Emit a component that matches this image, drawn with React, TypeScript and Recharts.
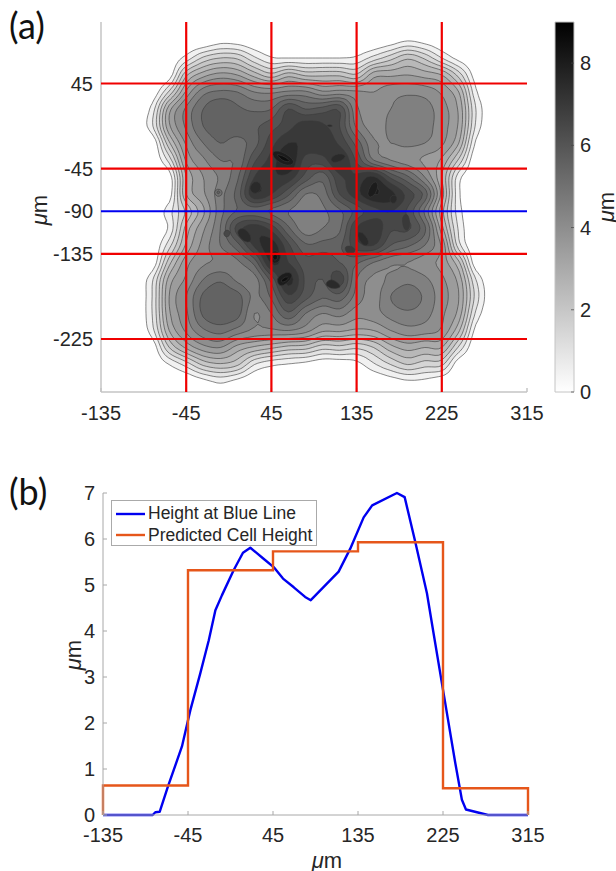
import React from 'react';
import { ScatterChart, Scatter, XAxis, YAxis, LineChart, Line, Legend, BarChart, Bar } from 'recharts';

const FONT = '"Liberation Sans", Arial, sans-serif';
const INK = '#262626';

// Height map: one row per y, one value per x (missing values on the right are 0)
const gridX = [-135,-117,-99,-81,-63,-45,-27,-9,9,27,45,63,81,99,117,135,153,171,189,207,225,243,261,279,297,315];
const gridY = [108,90,72,54,36,18,0,-18,-36,-54,-72,-90,-108,-126,-144,-162,-180,-198,-216,-234,-252,-270,-288];
const heights = [
  [],
  [0,0,0,0,0,0,0,.3,.25,.05,0,0,0,0,0,0,0,.2,.5,.3,.05],
  [0,0,0,0,.05,.7,1.6,2,1.9,1.1,.55,.5,.5,.5,.5,.6,1.2,1.8,2.4,1.9,1,.3],
  [0,0,0,0,.2,2.4,3.3,3.7,3.5,2.8,2.2,2.8,2.4,2.4,2.4,2.1,3.3,3.4,3.5,3.3,3,1.8,.2],
  [0,0,0,.05,1.6,3.6,4.8,5.1,5,4.5,4.4,4.6,4.6,4.1,4.2,4.1,4,4.3,4.4,4.3,3.9,3,.6],
  [0,0,0,.7,3.3,4.6,5.5,5.9,5.6,5.4,5.5,6.5,6,6.2,6.4,4.6,4.3,4.5,4.7,4.7,4.2,3.4,1],
  [0,0,0,.9,3.4,4.6,5.5,5.8,5.8,5.9,6.3,6.8,7.3,7.1,6.5,4.9,4.3,4.6,4.7,4.7,4.2,3.4,.9],
  [0,0,0,0,2.4,4.1,5,5.5,5.3,5.8,6.8,7.5,7.4,7.3,6.9,5.8,4.6,4.5,4.6,4.5,4.1,3,.4],
  [0,0,0,0,1.2,3.6,4.4,5,5.1,6.4,7.2,8,6.8,6.8,7.5,6.4,5,4.5,4.2,3.9,3.4,1.9],
  [0,0,0,0,.2,3,4,4.6,5.4,7,7.4,7.3,6.3,5.7,6.9,7.1,7.6,6.4,5.6,4.5,3,.7],
  [0,0,0,0,.2,3,3.9,4.8,5.7,7.4,7,6.1,5,5.2,6.5,7.3,8,7.7,6.8,5.8,3.3,.6],
  [0,0,0,0,.8,2.1,3.4,4.8,5.55,5.75,5.4,5,4.7,4.9,5.4,6.2,6.8,7,6.4,4.9,2.7,.7,.05],
  [0,0,0,0,.6,2.7,3.9,5,6.7,7.3,6.8,5.6,4.7,5,5.4,7,7.4,6.6,6.6,5.6,3.2,.9],
  [0,0,0,0,1.3,3.1,4.2,5,5.8,7.1,7.8,6.6,5.6,5.7,5.9,6.8,7,6,5.6,5,3.9,1.2],
  [0,0,0,.05,2.3,3.8,4.4,4.6,4.9,5.7,7.6,7,6.2,6.3,6,5.6,5,4.6,4.5,4.2,3.8,2.6,.1],
  [0,0,0,.9,3.2,4.1,5,5.4,4.9,4.8,6.2,7.7,6.4,6,6.8,5,4.4,4.6,4.85,4.6,4.1,3.3,1],
  [0,0,0,1,3.5,4.5,5.6,5.9,5.7,4.9,5.6,6.9,6.2,5.6,5.8,4.8,4.3,5,5.3,4.9,4.2,3.5,1.3],
  [0,0,0,1,3.4,4.4,5.6,5.9,5.7,4.5,5,5.9,5,4.5,4.7,4.2,4.3,4.7,4.9,4.7,4.1,3.3,.9],
  [0,0,0,.8,3,4.1,4.9,5.2,4.8,4.4,4.4,4.5,4.2,3.6,3.6,3.4,3.5,4,4.3,4.2,3.9,2.6,.3],
  [0,0,0,.1,2,3.1,3.8,4,3.3,2.9,2.6,2.3,2.2,1.7,1.8,1.6,2,2.8,3.2,3,3,1.4],
  [0,0,0,0,.5,1.2,2.1,2.4,2.1,1,.6,.45,.3,.1,.1,.3,.9,1.5,2,1.7,1.6,.1],
  [0,0,0,0,0,0,.3,.6,.3,0,0,0,0,0,0,0,0,.2,.4,.35,.1],
  [],
];
const contourLevels = [.5,1,1.5,2,2.5,3,3.5,4,4.5,5,5.5,6,6.5,7,7.5,8,8.5];

// Small closed contours around the sharpest peaks, as level and [x, y] pairs
const peak1 = { level: 8, pts: [[46,-27],[52,-26],[60,-29],[68,-35],[69,-40],[62,-42],[54,-39],[47,-33]] };
const peak1b = { level: 8.5, pts: [[50,-30],[54,-30.5],[60,-33],[65,-37],[62,-38],[56,-36]] };
const peak2 = { level: 7.5, pts: [[107,-35],[112,-30],[120,-29],[124,-32],[119,-37],[110,-39]] };
const peak3 = { level: 8, pts: [[146,-72],[150,-62],[155,-58],[158,-62],[155,-72],[149,-76]] };
const peak4 = { level: 7.5, pts: [[170,-77],[172,-73],[177,-73],[178,-78],[175,-82],[171,-81]] };
const peak5 = { level: 7, pts: [[183,-96],[188,-92],[191,-98],[191,-108],[187,-111],[184,-106]] };
const peak6 = { level: 7.5, pts: [[136,-112],[141,-112],[147,-119],[148,-125],[143,-127],[137,-120]] };
const peak7 = { level: 7, pts: [[122,-128],[128,-126],[134,-130],[132,-135],[125,-135]] };
const peak8 = { level: 8, pts: [[43,-134],[49,-131],[55,-135],[54,-143],[48,-146],[43,-141]] };
const peak8b = { level: 8.5, pts: [[46,-137],[50,-135],[52,-138],[50,-142],[47,-141]] };
const peak9 = { level: 8, pts: [[50,-162],[56,-156],[64,-154],[68,-158],[62,-166],[54,-170]] };
const peak9b = { level: 8.5, pts: [[55,-163],[60,-159],[64,-160],[60,-164],[56,-165]] };
const peak10 = { level: 7.5, pts: [[101,-167],[108,-161],[117,-167],[118,-171],[108,-172]] };
const peak11 = { level: 7.5, pts: [[9,-110],[16,-107],[24,-116],[23,-123],[16,-122],[10,-116]] };
const peak12 = { level: 6.5, pts: [[-6,-113],[-2,-109],[2,-112],[0,-117],[-4,-117]] };
const peak13 = { level: 7.5, pts: [[22,-64],[27,-58],[34,-60],[34,-68],[28,-72],[23,-69]] };
const peak14 = { level: 5, pts: [[-16,-70],[-12,-66],[-7,-68],[-7,-73],[-12,-75]] };
const peak14b = { level: 5.5, pts: [[-13,-70],[-11,-68],[-9,-70],[-11,-72]] };
const peak15 = { level: 7.5, pts: [[103,1],[108,1.5],[110,0],[106,-1]] };
const peakLoops = [peak14, peak14b, peak12, peak7, peak5, peak2, peak4, peak6, peak10, peak11, peak13, peak15, peak1, peak3, peak8, peak9, peak1b, peak8b, peak9b];

// Cell grid lines of panel (a)
const gridLinesX = [-45, 45, 135, 225];
const gridLinesY = [45, -45, -135, -225];
const blueLineY = -90;
const axisAXTicks = [-135, -45, 45, 135, 225, 315];
const axisAYTicks = [-225, -135, -90, -45, 45];
const colorbarTicks = [0, 2, 4, 6, 8];

// Panel (b)
const blueX = [-135,-82.4,-79.6,-75,-66.2,-51.4,-42.5,-32,-23,-16,-9,3.3,13.2,21,35,45.7,55.6,67,79,85,114.5,126.8,141,150,176.2,184.4,195.6,208,215,225.6,238,245,249.3,272.6,315];
const blueH = [0,0,.06,.07,.62,1.49,2.28,3.08,3.8,4.45,4.78,5.32,5.7,5.81,5.57,5.39,5.14,4.95,4.74,4.67,5.29,5.79,6.47,6.73,7,6.91,5.94,4.82,3.95,2.65,1.13,.33,.12,0,0];
const cellEdges = [-135,-45,45,135,225,315];
const cellHeights = [.64,5.32,5.73,5.93,.58];
const axisBYTicks = [0,1,2,3,4,5,6,7];

const blueData = blueX.map((x, i) => ({ x, h: blueH[i] }));
const orangeData: any[] = [{ x: cellEdges[0], h: 0 }];
cellHeights.forEach((h, i) => { orangeData.push({ x: cellEdges[i], h }, { x: cellEdges[i + 1], h }); });
orangeData.push({ x: cellEdges[cellEdges.length - 1], h: 0 });

// Contour tracing over a smoothed copy of the height map
const UP = 5;
function cr(a: number, b: number, c: number, d: number, t: number) {
  return 0.5 * (2 * b + (c - a) * t + (2 * a - 5 * b + 4 * c - d) * t * t + (3 * b - a - 3 * c + d) * t * t * t);
}
const nx = gridX.length, ny = gridY.length;
const at = (i: number, j: number) => {
  const r = heights[Math.max(0, Math.min(ny - 1, j))];
  return r[Math.max(0, Math.min(nx - 1, i))] ?? 0;
};
const W = (nx - 1) * UP + 1, H = (ny - 1) * UP + 1;
const fine: number[][] = [];
for (let v = 0; v < H; v++) {
  const j = Math.floor(v / UP), tv = v / UP - j;
  const row: number[] = [];
  for (let u = 0; u < W; u++) {
    const i = Math.floor(u / UP), tu = u / UP - i;
    const col = [-1, 0, 1, 2].map((dj) => cr(at(i - 1, j + dj), at(i, j + dj), at(i + 1, j + dj), at(i + 2, j + dj), tu));
    row.push(cr(col[0], col[1], col[2], col[3], tv));
  }
  fine.push(row);
}
const fx = (u: number) => gridX[0] + (u / UP) * (gridX[1] - gridX[0]);
const fy = (v: number) => gridY[0] + (v / UP) * (gridY[1] - gridY[0]);

function trace(level: number) {
  const adj = new Map<string, string[]>();
  const pos = new Map<string, [number, number]>();
  const edge = (kind: string, u: number, v: number) => {
    const key = kind + u + '_' + v;
    if (!pos.has(key)) {
      if (kind === 'h') {
        const a = fine[v][u], b = fine[v][u + 1];
        pos.set(key, [fx(u + (level - a) / (b - a)), fy(v)]);
      } else {
        const a = fine[v][u], b = fine[v + 1][u];
        pos.set(key, [fx(u), fy(v + (level - a) / (b - a))]);
      }
    }
    return key;
  };
  const link = (a: string, b: string) => {
    if (!adj.has(a)) adj.set(a, []);
    if (!adj.has(b)) adj.set(b, []);
    adj.get(a)!.push(b); adj.get(b)!.push(a);
  };
  for (let v = 0; v < H - 1; v++) for (let u = 0; u < W - 1; u++) {
    const a = fine[v][u] >= level, b = fine[v][u + 1] >= level, c = fine[v + 1][u + 1] >= level, d = fine[v + 1][u] >= level;
    const cross: string[] = [];
    if (a !== b) cross.push(edge('h', u, v));
    if (b !== c) cross.push(edge('v', u + 1, v));
    if (c !== d) cross.push(edge('h', u, v + 1));
    if (d !== a) cross.push(edge('v', u, v));
    if (cross.length === 2) link(cross[0], cross[1]);
    else if (cross.length === 4) {
      const centre = (fine[v][u] + fine[v][u + 1] + fine[v + 1][u + 1] + fine[v + 1][u]) / 4 >= level;
      if (centre === a) { link(cross[0], cross[1]); link(cross[2], cross[3]); }
      else { link(cross[3], cross[0]); link(cross[1], cross[2]); }
    }
  }
  const seen = new Set<string>();
  const pts: { x: number; y: number }[] = [];
  const starts: number[] = [];
  adj.forEach((_, k0) => {
    if (seen.has(k0)) return;
    const loop: [number, number][] = [];
    let cur: string | undefined = k0;
    while (cur && !seen.has(cur)) {
      seen.add(cur);
      loop.push(pos.get(cur)!);
      cur = adj.get(cur)!.find((n) => !seen.has(n));
    }
    if (loop.length < 3) return;
    starts.push(pts.length);
    let last: [number, number] | null = null;
    loop.forEach((p) => {
      if (!last || Math.hypot(p[0] - last[0], p[1] - last[1]) > 1.4) { pts.push({ x: p[0], y: p[1] }); last = p; }
    });
  });
  return { pts, starts };
}

const grey = (level: number) => {
  const g = Math.round(255 * (1 - level / 9));
  return `rgb(${g},${g},${g})`;
};

const contourSeries = contourLevels.map((level) => ({ level, ...trace(level), smooth: false }));
const peakSeries = peakLoops.map((p) => ({ level: p.level, pts: p.pts.map(([x, y]) => ({ x, y })), starts: [0], smooth: true }));

const filledLine = (level: number, starts: number[], smooth: boolean) => (props: any) => {
  const points: { x: number; y: number }[] = props.points;
  let d = '';
  if (smooth) {
    const n = points.length;
    const mid = (a: any, b: any) => `${((a.x + b.x) / 2).toFixed(1)} ${((a.y + b.y) / 2).toFixed(1)}`;
    d = 'M' + mid(points[n - 1], points[0]);
    points.forEach((p, i) => { d += `Q${p.x.toFixed(1)} ${p.y.toFixed(1)} ${mid(p, points[(i + 1) % n])}`; });
  } else {
    points.forEach((p, i) => {
      if (starts.includes(i)) d += (i ? 'Z' : '') + 'M';
      else d += 'L';
      d += p.x.toFixed(1) + ' ' + p.y.toFixed(1);
    });
  }
  return <path d={d + 'Z'} fill={grey(level)} fillRule="evenodd" stroke="#3a3a3a" strokeWidth={0.7} strokeOpacity={0.85} strokeLinejoin="round" />;
};
const noDot = () => <g />;

const MuText = ({ x, y, rotate = 0 }: any) => (
  <text x={x} y={y} textAnchor="middle" dominantBaseline="central" fontFamily={FONT} fontSize={22} fill={INK}
    transform={rotate ? `rotate(${rotate} ${x} ${y})` : undefined}>
    <tspan fontStyle="italic">μ</tspan>m
  </text>
);

const tickStyle = { fontFamily: FONT, fontSize: 20, fill: INK };
const LEGEND_NAMES = ['Height at Blue Line', 'Predicted Cell Height'];
const BLUE = '#0000f0';
const ORANGE = '#e6561a';

const LegendBox = () => (
  <div style={{ width: 206, height: 46, boxSizing: 'border-box', border: '1px solid #aaa', background: '#fff', fontFamily: FONT, fontSize: 17.5, color: INK, lineHeight: '21.6px', paddingTop: 2 }}>
    {LEGEND_NAMES.map((n, i) => (
      <div key={n} style={{ display: 'flex', alignItems: 'center', whiteSpace: 'nowrap' }}>
        <svg width={36} height={10} style={{ flex: 'none' }}><line x1={4} x2={33} y1={5} y2={5} stroke={i ? ORANGE : BLUE} strokeWidth={2.4} /></svg>
        <span>{n}</span>
      </div>
    ))}
  </div>
);

const panelLabel = (text: string, top: number) => (
  <div style={{ position: 'absolute', left: 9, top, fontFamily: 'Lato, sans-serif', fontSize: 36, color: '#111', lineHeight: '36px' }}>{text}</div>
);

export default function App() {
  const boxA = { stroke: '#c4c4c4', strokeWidth: 1.5 };
  const boxB = { stroke: '#a8a8a8', strokeWidth: 1 };
  return (
    <div style={{ position: 'absolute', left: 0, top: 0, width: 616, height: 871, overflow: 'hidden', background: '#fff' }}>
      {panelLabel('(a)', 7)}
      {panelLabel('(b)', 473)}
      <div style={{ position: 'absolute', left: 0, top: 0 }}>
        <ScatterChart width={616} height={440} margin={{ top: 22, right: 89, bottom: 18, left: 0 }}>
          <XAxis xAxisId="b" type="number" dataKey="x" domain={[-135, 315]} ticks={axisAXTicks} interval={0} height={30} allowDataOverflow axisLine={boxA} tickLine={boxA} tickSize={-4} tickMargin={18} tick={tickStyle} />
          <XAxis xAxisId="t" type="number" dataKey="x" orientation="top" domain={[-135, 315]} ticks={[]} height={0} axisLine={boxA} tick={false} tickLine={false} />
          <YAxis yAxisId="l" type="number" dataKey="y" domain={[-281, 110]} ticks={axisAYTicks} interval={0} width={101} allowDataOverflow axisLine={boxA} tickLine={false} tickMargin={8} tickSize={0} tick={tickStyle} />
          <YAxis yAxisId="r" type="number" dataKey="y" orientation="right" domain={[-281, 110]} ticks={[]} width={0} axisLine={boxA} tick={false} tickLine={false} />
          {[...contourSeries, ...peakSeries].map((s, i) => (
            <Scatter key={i} xAxisId="b" yAxisId="l" data={s.pts} isAnimationActive={false} shape={noDot} line={filledLine(s.level, s.starts, s.smooth)} />
          ))}
          {gridLinesX.map((x) => (
            <Scatter key={'vx' + x} xAxisId="b" yAxisId="l" data={[{ x, y: -281 }, { x, y: 110 }]} isAnimationActive={false} shape={noDot} line={{ stroke: '#f00000', strokeWidth: 2.2 }} />
          ))}
          {gridLinesY.map((y) => (
            <Scatter key={'hy' + y} xAxisId="b" yAxisId="l" data={[{ x: -135, y }, { x: 315, y }]} isAnimationActive={false} shape={noDot} line={{ stroke: '#f00000', strokeWidth: 2.2 }} />
          ))}
          <Scatter xAxisId="b" yAxisId="l" data={[{ x: -135, y: blueLineY }, { x: 315, y: blueLineY }]} isAnimationActive={false} shape={noDot} line={{ stroke: '#0000f0', strokeWidth: 2.2 }} />
          <MuText x={313} y={446} />
          <MuText x={39} y={210} rotate={-90} />
        </ScatterChart>
      </div>
      <div style={{ position: 'absolute', left: 0, top: 0 }}>
        <BarChart width={616} height={440} data={[{ c: 'bar', v: 9 }]} margin={{ top: 22, right: 0, bottom: 48, left: 555 }} barCategoryGap={0}>
          <defs>
            <linearGradient id="cbar" x1="0" y1="0" x2="0" y2="1">
              <stop offset="0%" stopColor="#000" />
              <stop offset="100%" stopColor="#fff" />
            </linearGradient>
          </defs>
          <XAxis dataKey="c" hide />
          <YAxis orientation="right" type="number" domain={[0, 9]} ticks={colorbarTicks} interval={0} width={42} axisLine={false} tickLine={{ stroke: '#444', strokeWidth: 0.7 }} tickSize={-3} tickMargin={9} tick={tickStyle} />
          <Bar dataKey="v" fill="url(#cbar)" stroke="#c4c4c4" strokeWidth={1} isAnimationActive={false} />
          <MuText x={606} y={207} rotate={-90} />
        </BarChart>
      </div>
      <div style={{ position: 'absolute', left: 0, top: 470 }}>
        <LineChart width={616} height={401} margin={{ top: 23, right: 88, bottom: 26, left: 0 }}>
          <XAxis xAxisId="b" type="number" dataKey="x" domain={[-135, 315]} ticks={axisAXTicks} interval={0} height={30} axisLine={boxB} tickLine={boxB} tickSize={-4} tickMargin={17} tick={tickStyle} allowDuplicatedCategory={false} />
          <XAxis xAxisId="t" type="number" dataKey="x" orientation="top" domain={[-135, 315]} ticks={axisAXTicks} interval={0} height={0} axisLine={boxB} tickLine={boxB} tickSize={-4} tick={false} allowDuplicatedCategory={false} />
          <YAxis yAxisId="l" type="number" domain={[0, 7]} ticks={axisBYTicks} interval={0} width={103} axisLine={boxB} tickLine={boxB} tickSize={-4} tickMargin={12} tick={tickStyle} />
          <YAxis yAxisId="r" type="number" orientation="right" domain={[0, 7]} ticks={axisBYTicks} interval={0} width={0} axisLine={boxB} tickLine={boxB} tickSize={-4} tick={false} />
          <Line xAxisId="b" yAxisId="l" data={blueData} dataKey="h" name={LEGEND_NAMES[0]} type="linear" stroke={BLUE} strokeWidth={2.4} dot={false} isAnimationActive={false} strokeLinejoin="round" />
          <Line xAxisId="b" yAxisId="l" data={orangeData} dataKey="h" name={LEGEND_NAMES[1]} type="linear" stroke={ORANGE} strokeWidth={2.4} dot={false} isAnimationActive={false} />
          <Legend layout="vertical" align="center" verticalAlign="middle" wrapperStyle={{ left: 111, top: 30, width: 208, height: 47 }} content={() => <LegendBox />} />
          <MuText x={327} y={390} />
          <MuText x={73} y={185} rotate={-90} />
        </LineChart>
      </div>
    </div>
  );
}
